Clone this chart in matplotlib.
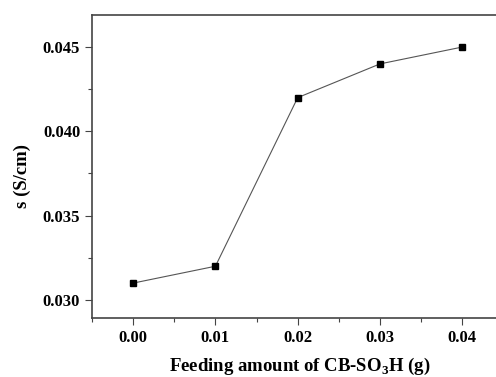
import matplotlib
matplotlib.use("Agg")
import matplotlib.pyplot as plt
from matplotlib.ticker import MultipleLocator

feed = [0.00, 0.01, 0.02, 0.03, 0.04]
sigma = [0.031, 0.032, 0.042, 0.044, 0.045]

plt.rcParams['font.family'] = ['Liberation Serif', 'DejaVu Serif']
plt.rcParams['font.weight'] = 'bold'
plt.rcParams['mathtext.fontset'] = 'custom'
plt.rcParams['mathtext.rm'] = 'Liberation Serif:bold'
plt.rcParams['mathtext.bf'] = 'Liberation Serif:bold'

fig = plt.figure(figsize=(4.96, 3.77), dpi=100)
ax = fig.add_axes([92 / 496, 59 / 377, 1 - 92 / 496, 303 / 377])

ax.plot(feed, sigma, color='#555555', lw=0.8, marker='s', ms=5,
        mfc='black', mec='black')

ax.set_xlim(-0.005, 0.0441)
ax.set_ylim(0.02893, 0.0469)
ax.xaxis.set_major_locator(MultipleLocator(0.01))
ax.xaxis.set_minor_locator(MultipleLocator(0.005))
ax.yaxis.set_major_locator(MultipleLocator(0.005))
ax.yaxis.set_minor_locator(MultipleLocator(0.0025))
ax.xaxis.set_major_formatter(plt.FormatStrFormatter('%.2f'))
ax.yaxis.set_major_formatter(plt.FormatStrFormatter('%.3f'))

ax.spines['right'].set_visible(False)
for s in ['left', 'top', 'bottom']:
    ax.spines[s].set_color('#444444')
    ax.spines[s].set_linewidth(1.2)

ax.tick_params(which='both', direction='out', color='#444444')
ax.tick_params(which='major', length=5, width=0.8, labelsize=12)
ax.tick_params(which='minor', length=3, width=0.8)
for lab in ax.get_xticklabels() + ax.get_yticklabels():
    lab.set_fontweight('bold')

ax.set_xlabel('Feeding amount of CB-SO$_{\\mathrm{3}}$H (g)', fontsize=13.5,
              fontweight='bold')
ax.set_ylabel('s (S/cm)', fontsize=13.5, fontweight='bold')
ax.xaxis.set_label_coords(0.515, -0.125)
ax.yaxis.set_label_coords(-0.152, 0.469)

fig.savefig('out.png', dpi=100)
